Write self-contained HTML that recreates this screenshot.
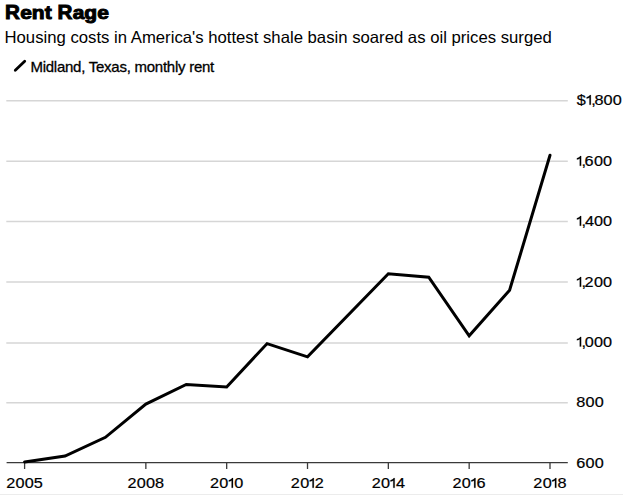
<!DOCTYPE html>
<html>
<head>
<meta charset="utf-8">
<style>
html,body{margin:0;padding:0;background:#fff;}
body{width:623px;height:495px;position:relative;overflow:hidden;font-family:"Liberation Sans",sans-serif;color:#000;}
.t{position:absolute;white-space:nowrap;line-height:1;}
#sub{left:4.5px;top:30px;font-size:16.72px;}
#leg{left:30.4px;top:59.3px;font-size:15px;letter-spacing:-0.25px;-webkit-text-stroke:0.3px #000;}
svg{position:absolute;left:0;top:0;}
#bot{position:absolute;left:0;top:494px;width:623px;height:1px;background:#ececec;}
</style>
</head>
<body>
<div id="sub" class="t">Housing costs in America's hottest shale basin soared as oil prices surged</div>
<div id="leg" class="t">Midland, Texas, monthly rent</div>
<svg width="623" height="495" viewBox="0 0 623 495">
<g font-family="Liberation Sans" font-weight="bold" fill="#000" stroke="#000" stroke-width="1">
<text x="5.000" y="18.9" font-size="20.6">R</text>
<text transform="translate(20.166,18.9) scale(1.1053,1)" font-size="19.0">e</text>
<text transform="translate(31.845,18.9) scale(1.1053,1)" font-size="19.0">n</text>
<text transform="translate(44.672,18.9) scale(1.1053,1)" font-size="19.0">t</text>
<text x="57.500" y="18.9" font-size="20.6">R</text>
<text transform="translate(72.666,18.9) scale(1.1053,1)" font-size="19.0">a</text>
<text transform="translate(84.345,18.9) scale(1.1053,1)" font-size="19.0">g</text>
<text transform="translate(97.172,18.9) scale(1.1053,1)" font-size="19.0">e</text>
</g>
<line x1="15.3" y1="70.2" x2="24.7" y2="61.2" stroke="#000" stroke-width="2.8" stroke-linecap="round"/>
<g stroke="#d6d6d6" stroke-width="1.5">
<line x1="6.3" y1="100.65" x2="567.8" y2="100.65"/>
<line x1="6.3" y1="161.3" x2="567.8" y2="161.3"/>
<line x1="6.3" y1="221.55" x2="567.8" y2="221.55"/>
<line x1="6.3" y1="282.05" x2="567.8" y2="282.05"/>
<line x1="6.3" y1="342.9" x2="567.8" y2="342.9"/>
<line x1="6.3" y1="402.65" x2="567.8" y2="402.65"/>
</g>
<line x1="6.6" y1="462.55" x2="567.8" y2="462.55" stroke="#3a3a3a" stroke-width="1.15"/>
<g stroke="#3a3a3a" stroke-width="1.3">
<line x1="24.60" y1="462" x2="24.60" y2="469"/>
<line x1="145.85" y1="462" x2="145.85" y2="469"/>
<line x1="226.68" y1="462" x2="226.68" y2="469"/>
<line x1="307.51" y1="462" x2="307.51" y2="469"/>
<line x1="388.34" y1="462" x2="388.34" y2="469"/>
<line x1="469.17" y1="462" x2="469.17" y2="469"/>
<line x1="550.00" y1="462" x2="550.00" y2="469"/>
</g>
<polyline fill="none" stroke="#000" stroke-width="3" stroke-linejoin="miter" stroke-linecap="round" points="24.60,461.90 65.02,456.00 105.43,437.30 145.85,404.10 186.26,384.50 226.68,387.00 267.09,343.60 307.51,356.90 388.34,273.70 428.75,277.20 469.17,335.80 509.58,290.30 550.00,155.30"/>
<g font-family="Liberation Sans" font-size="14.0" fill="#000" stroke="#000" stroke-width="0.2">
<text transform="translate(576.83,104.80) scale(1.16,1)">$</text>
<path transform="translate(586.70,104.80)" d="M2.75,0 L4.15,0 L4.15,-9.7 L3.2,-9.7 C2.8,-8.8 1.6,-7.9 -0.1,-7.5 L-0.1,-6.3 C1.0,-6.5 2.0,-6.9 2.75,-7.4 Z"/>
<text transform="translate(591.14,104.80) scale(1.16,1)">,</text>
<text transform="translate(594.39,104.80) scale(1.16,1)">8</text>
<text transform="translate(603.62,104.80) scale(1.16,1)">0</text>
<text transform="translate(612.77,104.80) scale(1.16,1)">0</text>
<path transform="translate(577.00,165.80)" d="M2.75,0 L4.15,0 L4.15,-9.7 L3.2,-9.7 C2.8,-8.8 1.6,-7.9 -0.1,-7.5 L-0.1,-6.3 C1.0,-6.5 2.0,-6.9 2.75,-7.4 Z"/>
<text transform="translate(581.44,165.80) scale(1.16,1)">,</text>
<text transform="translate(584.58,165.80) scale(1.16,1)">6</text>
<text transform="translate(593.92,165.80) scale(1.16,1)">0</text>
<text transform="translate(603.07,165.80) scale(1.16,1)">0</text>
<path transform="translate(577.00,225.80)" d="M2.75,0 L4.15,0 L4.15,-9.7 L3.2,-9.7 C2.8,-8.8 1.6,-7.9 -0.1,-7.5 L-0.1,-6.3 C1.0,-6.5 2.0,-6.9 2.75,-7.4 Z"/>
<text transform="translate(581.44,225.80) scale(1.16,1)">,</text>
<text transform="translate(585.03,225.80) scale(1.16,1)">4</text>
<text transform="translate(593.92,225.80) scale(1.16,1)">0</text>
<text transform="translate(603.07,225.80) scale(1.16,1)">0</text>
<path transform="translate(577.00,286.70)" d="M2.75,0 L4.15,0 L4.15,-9.7 L3.2,-9.7 C2.8,-8.8 1.6,-7.9 -0.1,-7.5 L-0.1,-6.3 C1.0,-6.5 2.0,-6.9 2.75,-7.4 Z"/>
<text transform="translate(581.44,286.70) scale(1.16,1)">,</text>
<text transform="translate(584.58,286.70) scale(1.16,1)">2</text>
<text transform="translate(593.92,286.70) scale(1.16,1)">0</text>
<text transform="translate(603.07,286.70) scale(1.16,1)">0</text>
<path transform="translate(577.00,346.60)" d="M2.75,0 L4.15,0 L4.15,-9.7 L3.2,-9.7 C2.8,-8.8 1.6,-7.9 -0.1,-7.5 L-0.1,-6.3 C1.0,-6.5 2.0,-6.9 2.75,-7.4 Z"/>
<text transform="translate(581.44,346.60) scale(1.16,1)">,</text>
<text transform="translate(584.77,346.60) scale(1.16,1)">0</text>
<text transform="translate(593.92,346.60) scale(1.16,1)">0</text>
<text transform="translate(603.07,346.60) scale(1.16,1)">0</text>
<text transform="translate(576.29,406.60) scale(1.16,1)">8</text>
<text transform="translate(585.52,406.60) scale(1.16,1)">0</text>
<text transform="translate(594.67,406.60) scale(1.16,1)">0</text>
<text transform="translate(576.18,467.80) scale(1.16,1)">6</text>
<text transform="translate(585.52,467.80) scale(1.16,1)">0</text>
<text transform="translate(594.67,467.80) scale(1.16,1)">0</text>
<text transform="translate(6.18,487.80) scale(1.16,1)">2</text>
<text transform="translate(15.51,487.80) scale(1.16,1)">0</text>
<text transform="translate(24.66,487.80) scale(1.16,1)">0</text>
<text transform="translate(33.79,487.80) scale(1.16,1)">5</text>
<text transform="translate(127.42,487.80) scale(1.16,1)">2</text>
<text transform="translate(136.76,487.80) scale(1.16,1)">0</text>
<text transform="translate(145.91,487.80) scale(1.16,1)">0</text>
<text transform="translate(154.99,487.80) scale(1.16,1)">8</text>
<text transform="translate(210.01,487.80) scale(1.16,1)">2</text>
<text transform="translate(219.34,487.80) scale(1.16,1)">0</text>
<path transform="translate(228.87,487.80)" d="M2.75,0 L4.15,0 L4.15,-9.7 L3.2,-9.7 C2.8,-8.8 1.6,-7.9 -0.1,-7.5 L-0.1,-6.3 C1.0,-6.5 2.0,-6.9 2.75,-7.4 Z"/>
<text transform="translate(234.14,487.80) scale(1.16,1)">0</text>
<text transform="translate(290.84,487.80) scale(1.16,1)">2</text>
<text transform="translate(300.17,487.80) scale(1.16,1)">0</text>
<path transform="translate(309.70,487.80)" d="M2.75,0 L4.15,0 L4.15,-9.7 L3.2,-9.7 C2.8,-8.8 1.6,-7.9 -0.1,-7.5 L-0.1,-6.3 C1.0,-6.5 2.0,-6.9 2.75,-7.4 Z"/>
<text transform="translate(314.79,487.80) scale(1.16,1)">2</text>
<text transform="translate(371.67,487.80) scale(1.16,1)">2</text>
<text transform="translate(381.00,487.80) scale(1.16,1)">0</text>
<path transform="translate(390.53,487.80)" d="M2.75,0 L4.15,0 L4.15,-9.7 L3.2,-9.7 C2.8,-8.8 1.6,-7.9 -0.1,-7.5 L-0.1,-6.3 C1.0,-6.5 2.0,-6.9 2.75,-7.4 Z"/>
<text transform="translate(396.06,487.80) scale(1.16,1)">4</text>
<text transform="translate(452.50,487.80) scale(1.16,1)">2</text>
<text transform="translate(461.83,487.80) scale(1.16,1)">0</text>
<path transform="translate(471.36,487.80)" d="M2.75,0 L4.15,0 L4.15,-9.7 L3.2,-9.7 C2.8,-8.8 1.6,-7.9 -0.1,-7.5 L-0.1,-6.3 C1.0,-6.5 2.0,-6.9 2.75,-7.4 Z"/>
<text transform="translate(476.44,487.80) scale(1.16,1)">6</text>
<text transform="translate(533.33,487.80) scale(1.16,1)">2</text>
<text transform="translate(542.66,487.80) scale(1.16,1)">0</text>
<path transform="translate(552.19,487.80)" d="M2.75,0 L4.15,0 L4.15,-9.7 L3.2,-9.7 C2.8,-8.8 1.6,-7.9 -0.1,-7.5 L-0.1,-6.3 C1.0,-6.5 2.0,-6.9 2.75,-7.4 Z"/>
<text transform="translate(557.39,487.80) scale(1.16,1)">8</text>
</g>
</svg>
<div id="bot"></div>
</body>
</html>
